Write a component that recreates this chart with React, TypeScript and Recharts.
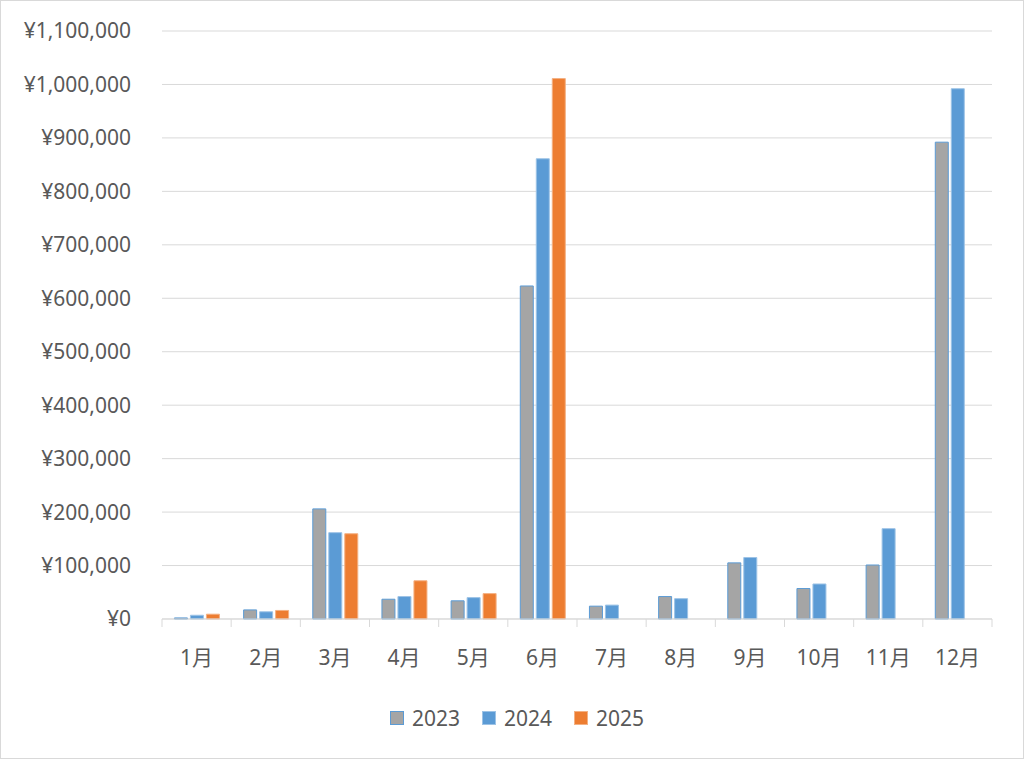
import { BarChart, Bar, XAxis, YAxis, CartesianGrid, Legend } from 'recharts';

const months = ['1月', '2月', '3月', '4月', '5月', '6月', '7月', '8月', '9月', '10月', '11月', '12月'];
const sales2023 = [2000, 17000, 206000, 37000, 34000, 623000, 24000, 42000, 105000, 57000, 101000, 892000];
const sales2024 = [7000, 13500, 161500, 42000, 40000, 861000, 26000, 38000, 115000, 65500, 169000, 992000];
const sales2025 = [9000, 16000, 159500, 71500, 47500, 1011000, null, null, null, null, null, null];
const yTicks = [0, 100000, 200000, 300000, 400000, 500000, 600000, 700000, 800000, 900000, 1000000, 1100000];

const data = months.map((m, i) => ({
  month: m,
  y2023: sales2023[i],
  y2024: sales2024[i],
  y2025: sales2025[i],
}));

const W = 1024;
const H = 759;
const LEFT = 161;
const RIGHT = 33;
const BAND = (W - LEFT - RIGHT) / months.length;
const FONT = "'Noto Sans', 'Noto Sans CJK JP', sans-serif";
const TEXT = '#595959';

const series = [
  { key: 'y2023', name: '2023', fill: '#a5a5a5', stroke: '#5b9bd5' },
  { key: 'y2024', name: '2024', fill: '#5b9bd5', stroke: '#9dc3e6' },
  { key: 'y2025', name: '2025', fill: '#ed7d31', stroke: '#f4b183' },
];

function MonthTick(props: any) {
  const { x, y, payload, index } = props;
  return (
    <g>
      <line x1={x - BAND / 2} y1={y} x2={x - BAND / 2} y2={y + 8} stroke="#d9d9d9" />
      {index === months.length - 1 && (
        <line x1={x + BAND / 2} y1={y} x2={x + BAND / 2} y2={y + 8} stroke="#d9d9d9" />
      )}
      <text x={x} y={y + 46} textAnchor="middle" fill={TEXT} fontSize={21} fontFamily={FONT}>
        {payload.value}
      </text>
    </g>
  );
}

function LegendBox() {
  return (
    <div style={{ display: 'flex', justifyContent: 'center', gap: 22, fontFamily: FONT, fontSize: 21, color: TEXT }}>
      {series.map((s) => (
        <div key={s.key} style={{ display: 'flex', alignItems: 'center', gap: 8 }}>
          <span
            style={{
              display: 'inline-block',
              width: 12,
              height: 12,
              background: s.fill,
              border: `1px solid ${s.stroke}`,
            }}
          />
          <span>{s.name}</span>
        </div>
      ))}
    </div>
  );
}

export default function App() {
  return (
    <div
      style={{
        position: 'absolute',
        left: 0,
        top: 0,
        width: W,
        height: H,
        boxSizing: 'border-box',
        border: '1px solid #d9d9d9',
        background: '#fff',
      }}
    >
      <div style={{ position: 'absolute', left: 0, top: -1 }}>
        <BarChart
          width={W}
          height={H}
          data={data}
          margin={{ top: 31, right: RIGHT, left: 0, bottom: 80 }}
          barCategoryGap="18%"
          barGap={3}
        >
          <CartesianGrid vertical={false} stroke="#d9d9d9" />
          <XAxis
            dataKey="month"
            height={60}
            axisLine={{ stroke: '#d9d9d9' }}
            tickLine={false}
            tickSize={0}
            tickMargin={0}
            interval={0}
            tick={<MonthTick />}
          />
          <YAxis
            width={LEFT}
            domain={[0, 1100000]}
            ticks={yTicks}
            interval={0}
            axisLine={false}
            tickLine={false}
            tickSize={0}
            tickMargin={31}
            tickFormatter={(v: number) => '¥' + v.toLocaleString('en-US')}
            tick={{ fill: TEXT, fontSize: 21, fontFamily: FONT }}
          />
          <Legend
            verticalAlign="middle"
            align="center"
            layout="horizontal"
            wrapperStyle={{ top: 704, left: 4, width: W }}
            content={() => <LegendBox />}
          />
          {series.map((s) => (
            <Bar
              key={s.key}
              dataKey={s.key}
              name={s.name}
              fill={s.fill}
              stroke={s.stroke}
              strokeWidth={1}
              isAnimationActive={false}
            />
          ))}
        </BarChart>
      </div>
    </div>
  );
}
